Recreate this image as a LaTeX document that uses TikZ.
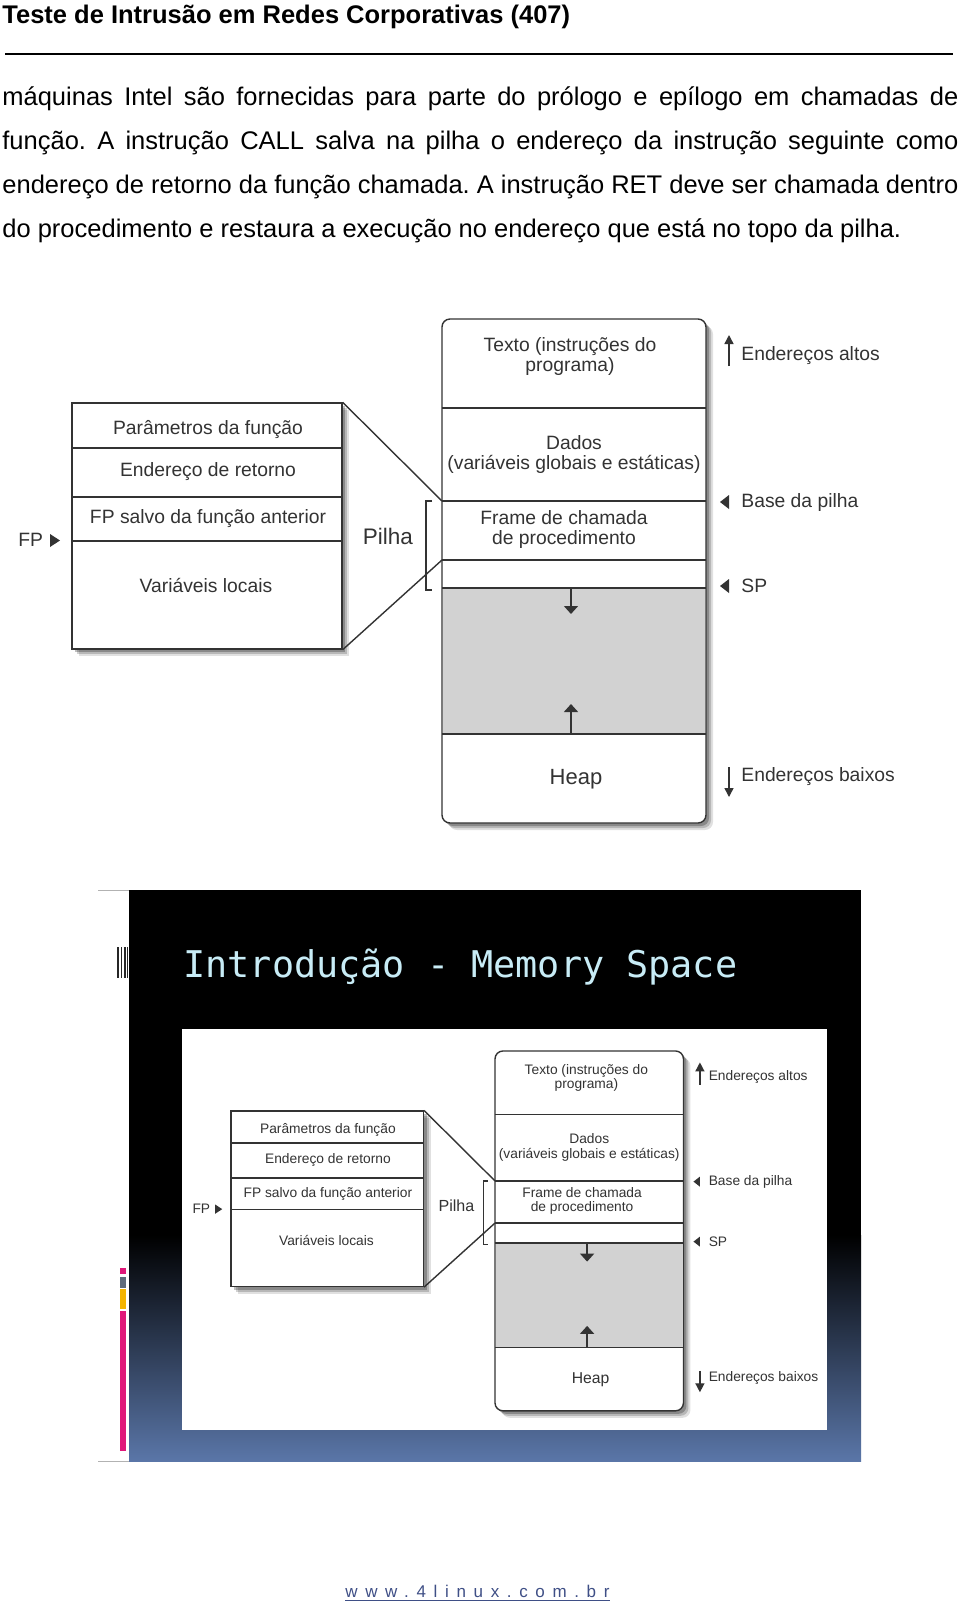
\documentclass[tikz,border=0pt]{standalone}
\usepackage{fontspec}
\setmainfont{Liberation Sans}
\newfontfamily\monofnt{DejaVu Sans Mono}
\newfontfamily\footfnt[LetterSpace=45]{Liberation Sans}
\usetikzlibrary{arrows.meta,shadows}
\frenchspacing
\definecolor{txtgray}{HTML}{333333}
\definecolor{stackgray}{HTML}{D2D2D2}
\definecolor{titlecyan}{HTML}{C8ECF6}
\definecolor{slideblue}{HTML}{5A76A8}
\definecolor{barpink}{HTML}{E0187A}
\definecolor{barslate}{HTML}{5F6B7B}
\definecolor{bargold}{HTML}{F4B400}
\definecolor{footblue}{HTML}{3F4F86}
\tikzset{
  dline/.style={draw=txtgray, line width=0.7pt},
  dtext/.style={font=\fontsize{9.65pt}{10pt}\selectfont, text=txtgray, inner sep=0pt, align=center},
  boxshadow/.style={drop shadow={shadow xshift=3.5pt, shadow yshift=-3.5pt, fill=black, opacity=0.12},
                    drop shadow={shadow xshift=2.5pt, shadow yshift=-2.5pt, fill=black, opacity=0.18},
                    drop shadow={shadow xshift=1.5pt, shadow yshift=-1.5pt, fill=black, opacity=0.25}},
  lboxst/.style={dline, fill=white, boxshadow, inner sep=0pt},
  mboxst/.style={dline, fill=white, boxshadow, rounded corners=4pt, inner sep=0pt},
  bigtip/.style={dline, -{Triangle[width=7pt,length=4pt]}},
  smalltip/.style={dline, -{Triangle[width=4.5pt,length=4.5pt]}},
  bodyline/.style={anchor=base west, inner sep=0pt, font=\fontsize{12.75pt}{15pt}\selectfont},
}
\newcommand\memdiag[1]{%
  % zoomed stack frame
  \node[lboxst, minimum width=135pt, minimum height=123pt] (#1lbox) at (207,526) {};
  \draw[dline] (72,448) -- (342,448);
  \draw[dline] (72,497) -- (342,497);
  \draw[dline] (72,541) -- (342,541);
  \node[dtext] (#1par) at (208,430) {Parâmetros da função};
  \node[dtext] (#1ret) at (208,472) {Endereço de retorno};
  \node[dtext] (#1fps) at (208,519) {FP salvo da função anterior};
  \node[dtext] (#1var) at (206,585) {Variáveis locais};
  \node[dtext, anchor=west] (#1fp) at (18,540) {FP};
  \fill[txtgray] (50,534) -- (50,547) -- (60,540.5) -- cycle;
  \node[dtext, font=\fontsize{11.25pt}{12pt}\selectfont] (#1pilha) at (388,536) {Pilha};
  \draw[dline] (432,501) -- (426,501) -- (426,590) -- (432,590);
  % memory layout
  \node[mboxst, minimum width=132pt, minimum height=252pt] (#1mem) at (574,571) {};
  \fill[stackgray] (443,588) rectangle (705,734);
  \draw[dline] (442,408) -- (706,408);
  \draw[dline] (442,501) -- (706,501);
  \draw[dline] (442,560) -- (706,560);
  \draw[dline] (442,588) -- (706,588);
  \draw[dline] (442,734) -- (706,734);
  \node[dtext] (#1txt) at (570,357) {Texto (instruções do\\programa)};
  \node[dtext] (#1dad) at (574,454) {Dados\\(variáveis globais e estáticas)};
  \node[dtext] (#1frm) at (564,529) {Frame de chamada\\de procedimento};
  \node[dtext, font=\fontsize{11pt}{12pt}\selectfont] (#1heap) at (576,779) {Heap};
  \coordinate (#1sa) at (571,588); \coordinate (#1sb) at (571,614);
  \draw[bigtip] (#1sa) -- (#1sb);
  \coordinate (#1ha) at (571,734); \coordinate (#1hb) at (571,704);
  \draw[bigtip] (#1ha) -- (#1hb);
  % right labels
  \coordinate (#1aa) at (729,366); \coordinate (#1ab) at (729,335);
  \draw[smalltip] (#1aa) -- (#1ab);
  \node[dtext, anchor=west] (#1alt) at (741,356) {Endereços altos};
  \fill[txtgray] (729,495) -- (729,509) -- (720,502) -- cycle;
  \node[dtext, anchor=west] (#1base) at (741,502) {Base da pilha};
  \fill[txtgray] (729,579) -- (729,593) -- (720,586) -- cycle;
  \node[dtext, anchor=west] (#1sp) at (741,586) {SP};
  \coordinate (#1ba) at (729,767); \coordinate (#1bb) at (729,797);
  \draw[smalltip] (#1ba) -- (#1bb);
  \node[dtext, anchor=west] (#1bai) at (741,777) {Endereços baixos};
  % zoom connectors
  \coordinate (#1dt) at (442,501); \coordinate (#1db) at (442,560);
  \draw[dline] (#1lbox.north east) -- (#1dt);
  \draw[dline] (#1lbox.south east) -- (#1db);
}
\begin{document}
\begin{tikzpicture}[x=0.5pt,y=-0.5pt]
\useasboundingbox (0,0) rectangle (960,1603);
\fill[white] (0,0) rectangle (960,1603);
% header
\node[anchor=base west, inner sep=0pt, font=\bfseries\fontsize{12.75pt}{15pt}\selectfont] (head) at (2,23) {Teste de Intrusão em Redes Corporativas (407)};
\coordinate (rulea) at (5,54); \coordinate (ruleb) at (953,54);
\draw[line width=0.85pt] (rulea) -- (ruleb);
% paragraph
\node[bodyline] (l1) at (2,105) {\makebox[478pt][s]{máquinas Intel são fornecidas para parte do prólogo e epílogo em chamadas de}};
\node[bodyline] (l2) at (2,149) {\makebox[478pt][s]{função. A instrução CALL salva na pilha o endereço da instrução seguinte como}};
\node[bodyline] (l3) at (2,193) {\makebox[478pt][s]{endereço de retorno da função chamada. A instrução RET deve ser chamada dentro}};
\node[bodyline] (l4) at (2,237) {do procedimento e restaura a execução no endereço que está no topo da pilha.};
% first diagram
\memdiag{a}
% slide
\draw[black!30, line width=0.5pt] (98,890) -- (129,890);
\draw[black!30, line width=0.5pt] (98,1461) -- (129,1461);
\fill[black] (129,890) rectangle (861,1461);
\shade[top color=black, bottom color=slideblue] (129,1235) rectangle (861,1461);
\foreach \xx in {117.3,120.7,124.0,126.7} {\fill[black!85] (\xx,947) rectangle ++(1.5,31);}
\fill[barpink] (120,1268) rectangle (126,1274);
\fill[barslate] (120,1277) rectangle (126,1288);
\fill[bargold] (120,1289) rectangle (126,1309);
\fill[barpink] (120,1311) rectangle (126,1451);
\node[anchor=base west, inner sep=0pt, font=\monofnt\fontsize{18.4pt}{20pt}\selectfont, text=titlecyan] (title) at (183,977) {Introdução - Memory Space};
\fill[white] (182,1029) rectangle (827,1430);
\begin{scope}[shift={(179.4,823.2)}, scale=0.714, transform shape]
\memdiag{b}
\end{scope}
% footer
\node[anchor=base west, inner sep=0pt, font=\footfnt\fontsize{8.5pt}{10pt}\selectfont, text=footblue] (foot) at (345,1597) {www.4linux.com.br};
\draw[footblue, line width=0.5pt] ([yshift=-1.5pt]foot.base west) -- ([yshift=-1.5pt]foot.base east);
\end{tikzpicture}
\end{document}
